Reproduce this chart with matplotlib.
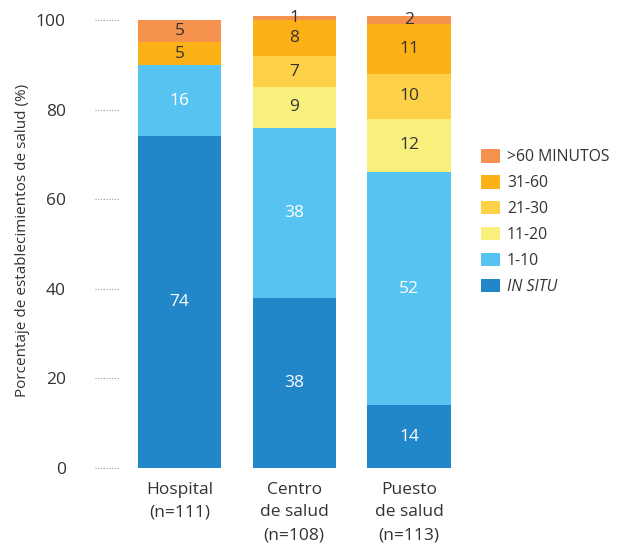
import matplotlib
matplotlib.use("Agg")
import matplotlib.pyplot as plt
from matplotlib.transforms import blended_transform_factory
import numpy as np

plt.rcParams['font.family'] = ['Open Sans', 'DejaVu Sans']

categories = ["Hospital\n(n=111)", "Centro\nde salud\n(n=108)", "Puesto\nde salud\n(n=113)"]
series_names = ["IN SITU", "1-10", "11-20", "21-30", "31-60", ">60 MINUTOS"]
in_situ = [74, 38, 14]
min_1_10 = [16, 38, 52]
min_11_20 = [0, 9, 12]
min_21_30 = [0, 7, 10]
min_31_60 = [5, 8, 11]
min_60_plus = [5, 1, 2]
y_ticks = [0, 20, 40, 60, 80, 100]

series = [in_situ, min_1_10, min_11_20, min_21_30, min_31_60, min_60_plus]
colors = ["#2287C9", "#57C3F0", "#F9EF7C", "#FED248", "#FCB116", "#F5924E"]
text_colors = ["white", "white", "#333333", "#333333", "#333333", "#333333"]

fig = plt.figure(figsize=(6.24, 5.45), dpi=100)
ax = fig.add_axes([95 / 624, 1 - 468 / 545, (465 - 95) / 624, (468 - 13.3) / 545])

x = np.arange(len(categories))
bottom = np.zeros(len(categories))
handles = []
for vals, col, tcol, name in zip(series, colors, text_colors, series_names):
    vals = np.array(vals, dtype=float)
    bars = ax.bar(x, vals, width=0.725, bottom=bottom, color=col, label=name,
                  linewidth=0)
    handles.append(bars)
    for xi, v, b in zip(x, vals, bottom):
        if v > 0:
            ax.text(xi, b + v / 2, f"{int(v)}", ha="center", va="center",
                    fontsize=12.5, color=tcol)
    bottom += vals

ax.set_xlim(-0.736, 2.488)
ax.set_ylim(0, 101.5)
ax.set_yticks(y_ticks)
ax.set_yticklabels([str(t) for t in y_ticks], fontsize=12.5, color="#333333")
ax.set_xticks(x)
ax.set_xticklabels(categories, fontsize=12.5, color="#333333", linespacing=1.55)
ax.tick_params(axis="y", length=0, pad=21)
ax.tick_params(axis="x", length=0, pad=10)
for s in ax.spines.values():
    s.set_visible(False)

# short dotted guides next to the y tick labels
trans = blended_transform_factory(ax.transAxes, ax.transData)
for t in y_ticks:
    ax.plot([0, 25 / 370], [t, t], transform=trans, color="#999999",
            linestyle=(0, (1, 1.5)), linewidth=0.8, clip_on=False)

ax.set_ylabel("Porcentaje de establecimientos de salud (%)", fontsize=11,
              color="#333333")
ax.yaxis.set_label_coords(-0.175, 0.5)

leg = fig.legend(handles[::-1], series_names[::-1], loc="upper left",
                 bbox_to_anchor=(467 / 624, 1 - 135 / 545), frameon=False,
                 fontsize=11.3, handlelength=1.2, handleheight=0.95,
                 labelspacing=0.62, handletextpad=0.45)
for txt in leg.get_texts():
    txt.set_color("#333333")
leg.get_texts()[-1].set_style("italic")

fig.savefig("out.png", dpi=100)
